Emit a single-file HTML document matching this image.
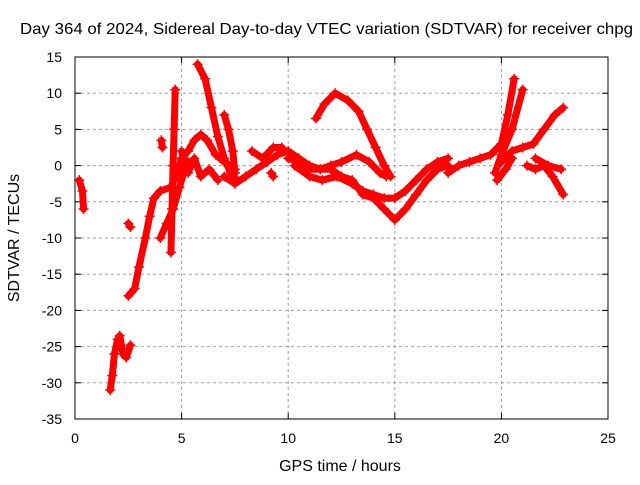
<!DOCTYPE html>
<html><head><meta charset="utf-8"><style>
body{margin:0;background:#fff;}
svg text{font-family:"Liberation Sans",sans-serif;font-size:14px;fill:#000;}
svg text.big{font-size:16px;}
</style></head><body>
<svg id="chart" width="640" height="480" viewBox="0 0 640 480">
<text class="big" x="20" y="34" textLength="613" lengthAdjust="spacingAndGlyphs">Day 364 of 2024, Sidereal Day-to-day VTEC variation (SDTVAR) for receiver chpg</text>
<g id="grid"></g>
<g id="ticks"></g>
<g id="marks"></g>
<rect x="75" y="57" width="533" height="362" fill="none" stroke="#000" stroke-width="1"/>
<text class="big" x="340" y="471" text-anchor="middle">GPS time / hours</text>
<text class="big" transform="translate(19,238) rotate(-90)" text-anchor="middle">SDTVAR / TECUs</text>
</svg>
<script>
const xTicks=[0,5,10,15,20,25];
const yTicks=[-35,-30,-25,-20,-15,-10,-5,0,5,10,15];
const track1=[[0.2,-2],[0.35,-3.5],[0.4,-6]];
const track2=[[1.65,-31],[1.75,-29],[1.85,-26],[2.0,-24],[2.1,-23.5],[2.25,-26],[2.4,-26.5],[2.6,-24.8]];
const track3=[[2.5,-18],[2.8,-17],[3.0,-14],[3.3,-10],[3.5,-7],[3.7,-4.5],[4.0,-3.5],[4.5,-3],[4.8,-1],[5.0,1],[5.3,2],[5.6,3.5],[5.9,4.3],[6.2,3.5],[6.6,1.5],[7.0,0.5],[7.5,-0.5]];
const track4=[[4.0,-10],[4.3,-8],[4.6,-6],[4.9,-3],[5.1,-1],[5.3,0.5]];
const track5=[[4.5,-12],[4.55,-6],[4.6,0],[4.65,5],[4.7,10.5]];
const track6=[[5.75,14],[6.1,12],[6.4,8],[6.7,4],[7.0,1],[7.3,-1],[7.6,-2]];
const track7=[[7.0,-1.5],[7.5,-2.5],[8,-1.5],[8.5,-0.5],[9,0.5],[9.5,1.5],[10,2],[10.5,1],[11,0],[11.5,-0.5],[12,-0.5],[12.5,-1.5],[13,-2],[13.5,-4],[14,-4.5],[14.5,-6],[15,-7.5],[15.5,-6],[16,-4],[16.5,-2],[17,-0.5],[17.5,0]];
const track8=[[11.3,6.5],[11.7,8.5],[12.2,10],[12.8,9],[13.3,7.5],[13.7,5],[14.1,2.5],[14.5,0],[14.8,-1.5]];
const track9=[[10,1],[10.5,0.5],[11,-0.5],[11.5,-0.5],[12,0],[12.5,0.5],[13.2,1.5],[13.8,0.5],[14.3,-1],[14.6,-1.5]];
const track10=[[10.3,0],[11,-1.5],[11.6,-2],[12.3,-1.5],[13,-2.5],[13.5,-3.5],[14,-4],[14.5,-4.5],[15,-4.5],[15.5,-3.5],[16,-2],[16.5,-0.5],[17,0.5],[17.5,1]];
const track11=[[17.5,-1],[18,0],[18.5,0.5],[19,1],[19.5,1.5],[20,3],[20.3,7],[20.6,12]];
const track12=[[19.7,-1],[20,1.5],[20.5,5],[21,10.5]];
const track13=[[20,0.5],[20.5,2],[21,2.5],[21.5,3],[22,5],[22.5,7],[22.9,8]];
const track14=[[19.8,-2],[20.2,-0.5],[20.5,1]];
const track15=[[21.2,0],[21.6,-0.5],[22,0],[22.4,-1.5],[22.9,-4]];
const track16=[[21.6,1],[22.2,0],[22.8,-0.5]];
const track17=[[4.05,3.5],[4.1,2.5]];
const track18=[[2.5,-8],[2.6,-8.5]];
const track19=[[9.2,-1],[9.3,-1.5]];
const track20=[[7.0,7],[7.2,5],[7.4,2],[7.5,-1]];
const track21=[[5.0,2],[5.3,-1],[5.6,1],[5.9,-1.5],[6.3,-0.5],[6.7,-2]];
const track22=[[8.3,2],[8.8,1],[9.3,2.5],[9.7,2.5]];
const tracks=[track1,track2,track3,track4,track5,track6,track7,track8,track9,track10,track11,track12,track13,track14,track15,track16,track17,track18,track19,track20,track21,track22];
const NS="http://www.w3.org/2000/svg";
const X0=75,X1=608,Y0=419,Y1=57;
function sx(v){return X0+(v-0)/(25-0)*(X1-X0);}
function sy(v){return Y0-(v+35)/(15+35)*(Y0-Y1);}
const grid=document.getElementById('grid'),ticks=document.getElementById('ticks'),marks=document.getElementById('marks');
function mk(tag,attrs,parent){const e=document.createElementNS(NS,tag);for(const k in attrs)e.setAttribute(k,attrs[k]);parent.appendChild(e);return e;}
xTicks.forEach(t=>{
  const x=sx(t);
  if(t>0&&t<25){const g=mk('line',{x1:x,x2:x,y1:Y1,y2:Y0,stroke:'#a0a0a0','stroke-dasharray':'3,3'},grid);
  
  }
  mk('line',{x1:x,x2:x,y1:Y0,y2:Y0-6,stroke:'#000'},ticks);
  mk('line',{x1:x,x2:x,y1:Y1,y2:Y1+6,stroke:'#000'},ticks);
  const l=mk('text',{x:x,y:443,'text-anchor':'middle'},ticks);l.textContent=t;
  
  
});
yTicks.forEach(t=>{
  const y=sy(t);
  if(t>-35&&t<15){const g=mk('line',{x1:X0,x2:X1,y1:y,y2:y,stroke:'#a0a0a0','stroke-dasharray':'3,3'},grid);
  
  }
  mk('line',{x1:X0,x2:X0+6,y1:y,y2:y,stroke:'#000'},ticks);
  mk('line',{x1:X1,x2:X1-6,y1:y,y2:y,stroke:'#000'},ticks);
  const l=mk('text',{x:62,y:y+5,'text-anchor':'end'},ticks);l.textContent=t;
  
  
});
tracks.forEach((tr,i)=>{
  const pts=tr.map(p=>sx(p[0])+','+sy(p[1])).join(' ');
  const pl=mk('polyline',{points:pts,fill:'none',stroke:'#ff0000','stroke-width':7,'stroke-linejoin':'round','stroke-linecap':'round'},marks);
  
  
  tr.forEach(p=>{
    const x=sx(p[0]),y=sy(p[1]);
    const m=mk('path',{d:`M${x-5},${y}H${x+5}M${x},${y-5}V${y+5}`,stroke:'#ff0000','stroke-width':1.5},marks);
    
    
  });
});
</script>
</body></html>
